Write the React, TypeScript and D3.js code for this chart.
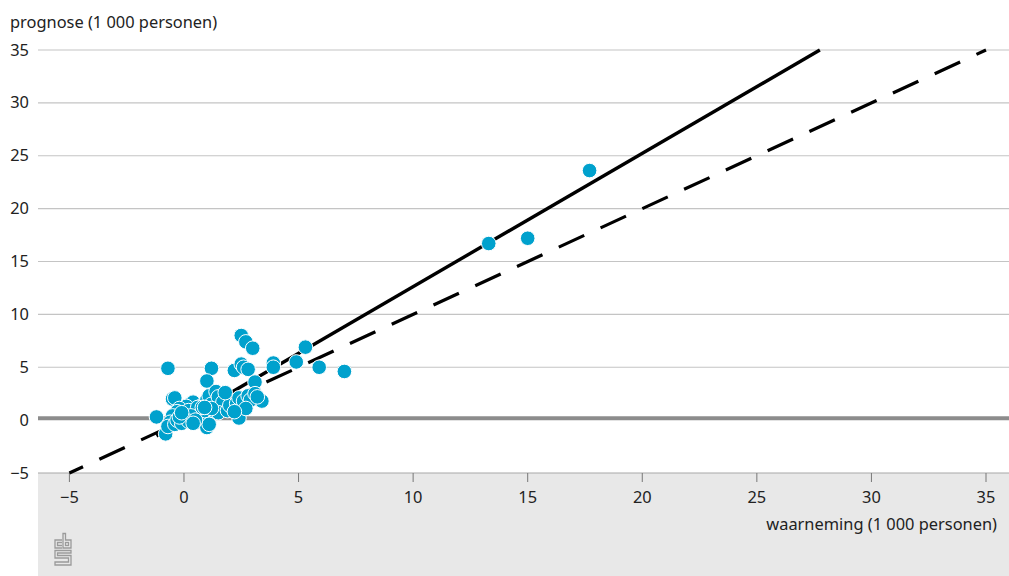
import React from "react";
import * as d3 from "d3";

// waarneming (x) vs prognose (y), 1 000 personen
const observed = [
  17.7, 13.3, 15.0, 5.3, 4.9, 5.9, 7.0, 3.9, 3.9, 2.5, 2.7, 3.0, -0.7, 1.2, 2.2, 2.5, 2.6, 2.8, 1.0, 3.1, 3.4, -1.2, -0.8, 2.4, -0.5, -0.4,
  0.3, 0.4, 0.1, -0.2, -0.3, -0.5, -0.6, -0.7, -0.4, -0.3, -0.1, 0.0, 0.2, 0.4, 0.5, 0.6, 0.7, 0.8, 0.9, 1.0, 1.1, 1.0, 1.1, 1.2,
  1.3, 1.4, 1.5, 1.6, 1.7, 1.5, 1.9, 2.0, 2.3, 2.4, 2.6, 2.8, 2.9, 3.1, 3.2, 2.7, 2.2, 0.6, 0.3, 0.9, 0.2, -0.2, 0.5, 0.8, 1.2, -0.1,
  1.8, 0.4, 0.9,
];
const predicted = [
  23.6, 16.7, 17.2, 6.9, 5.5, 5.0, 4.6, 5.4, 5.0, 8.0, 7.4, 6.8, 4.9, 4.9, 4.7, 5.3, 5.0, 4.8, 3.7, 3.6, 1.8, 0.3, -1.3, 0.2, 2.0, 2.1,
  1.6, 1.7, 1.3, 1.1, 0.8, 0.4, -0.2, -0.6, -0.4, 0.0, -0.3, 0.4, 0.9, 0.2, -0.2, 0.6, 1.1, 1.4, 0.3, -0.7, -0.4, 1.9, 2.3, 1.5,
  0.9, 2.7, 2.2, 1.2, 1.7, 0.7, 0.9, 1.4, 1.6, 2.1, 1.8, 2.3, 1.9, 2.5, 2.2, 1.1, 0.8, 1.2, 0.4, 0.9, -0.1, 0.3, 0.0, 1.2, 1.1, 0.7,
  2.6, -0.3, 1.2,
];

// regressielijn en lijn y = x
const regressionX = [-1.2, 27.75];
const regressionY = [-1.5, 35];
const identityX = [-5, 35];
const identityY = [-5, 35];

const xTicks = [-5, 0, 5, 10, 15, 20, 25, 30, 35];
const yTicks = [-5, 0, 5, 10, 15, 20, 25, 30, 35];

const W = 1009;
const H = 576;
const FONT = "'Noto Sans', sans-serif";
const FS = 16.4;

const x = d3.scaleLinear().domain([-5, 35]).range([69.4, 986]);
const y = d3.scaleLinear().domain([-5, 35]).range([473, 50]);
const fmt = d3.format("");

function CbsLogo() {
  // simple outline of the cbs mark
  const s = "#9a9a9a";
  return (
    <g fill="none" stroke={s} strokeWidth={1.3}>
      <path d="M62,540 H55 V548 H62" />
      <path d="M62,542.5 H57.5 V545.5 H62" />
      <path d="M63,533.5 V548 H71 V540 H65.5 V533.5 Z" />
      <rect x={65.5} y={542.5} width={3} height={3} />
      <path d="M71,550.5 H55 V558 H68.5 V562 H55 V565 H71 V555.5 H57.5 V553 H71 Z" />
    </g>
  );
}

export default function App() {
  const pts = observed.map((v, i) => [v, predicted[i]] as [number, number]);
  const regPath = d3.line()(regressionX.map((v, i) => [x(v), y(regressionY[i])]));
  const idPath = d3.line()(identityX.map((v, i) => [x(v), y(identityY[i])]));

  return (
    <svg
      width={W}
      height={H}
      style={{ position: "absolute", left: 0, top: 0, fontFamily: FONT }}
    >
      <rect x={0} y={0} width={W} height={H} fill="#fff" />
      <rect x={38} y={y(-5)} width={W - 38} height={H - y(-5)} fill="#e8e8e8" />

      {/* horizontal grid */}
      {yTicks.map((t) => (
        <g key={t}>
          {t === 0 ? (
            <line x1={38} x2={W} y1={y(0) - 2} y2={y(0) - 2} stroke="#8c8c8c" strokeWidth={4} />
          ) : (
            <line x1={38} x2={W} y1={y(t)} y2={y(t)} stroke={t === -5 ? "#a8a8a8" : "#c4c4c4"} strokeWidth={1.2} />
          )}
          <text x={29} y={y(t) + 5.5} textAnchor="end" fontSize={FS} fill="#222">
            {fmt(t)}
          </text>
        </g>
      ))}

      {/* x ticks */}
      {xTicks.map((t) => (
        <g key={t}>
          <line x1={x(t)} x2={x(t)} y1={y(-5)} y2={y(-5) + 9} stroke="#777" strokeWidth={1} />
          <text x={x(t)} y={503} textAnchor="middle" fontSize={FS} fill="#222">
            {fmt(t)}
          </text>
        </g>
      ))}

      <text x={10} y={28} fontSize={FS} fill="#222">
        prognose (1 000 personen)
      </text>
      <text x={997} y={530} textAnchor="end" fontSize={FS} fill="#222">
        waarneming (1 000 personen)
      </text>

      <path d={idPath ?? ""} fill="none" stroke="#000" strokeWidth={3.2} strokeDasharray="28 18" strokeDashoffset={13} />
      <path d={regPath ?? ""} fill="none" stroke="#000" strokeWidth={3.4} />

      {pts.map(([a, b], i) => (
        <circle key={i} cx={x(a)} cy={y(b)} r={7.3} fill="#00a1cd" stroke="#fff" strokeWidth={1} />
      ))}

      <CbsLogo />
    </svg>
  );
}
